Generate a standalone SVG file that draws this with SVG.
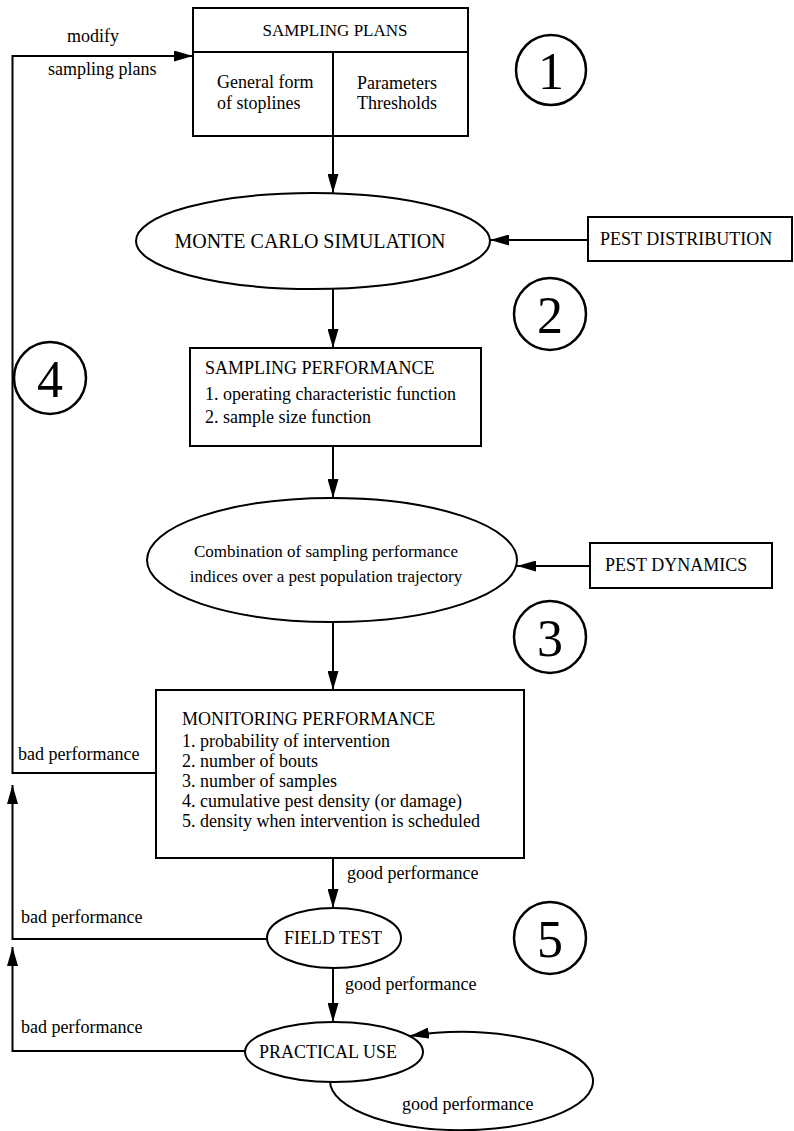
<svg xmlns="http://www.w3.org/2000/svg" width="794" height="1131" viewBox="0 0 794 1131">
<style>
text{font-family:"Liberation Serif","Times New Roman",serif;font-size:18px;fill:#000}
.box{fill:#fff;stroke:#000;stroke-width:2}
.el{fill:#fff;stroke:#000;stroke-width:2}
.num{fill:none;stroke:#000;stroke-width:2.5}
.numt{font-size:52px;text-anchor:middle}
.mid{text-anchor:middle}
.c{fill:none;stroke:#000;stroke-width:2}
</style>
<defs>
<marker id="ah" markerUnits="userSpaceOnUse" markerWidth="19" markerHeight="11" refX="19" refY="5.5" orient="auto">
<path d="M0,0 L19,5.5 L0,11 z" fill="#000"/>
</marker>
</defs>
<rect width="794" height="1131" fill="#fff"/>
<g id="connectors">
<path class="c" d="M156 773 L12.5 773 L12.5 56 L193 56" marker-end="url(#ah)"/>
<path class="c" d="M267 939 L12.5 939 L12.5 785" marker-end="url(#ah)"/>
<path class="c" d="M245 1051 L12.5 1051 L12.5 947" marker-end="url(#ah)"/>
<path class="c" d="M333 136 L333 193" marker-end="url(#ah)"/>
<path class="c" d="M588 240 L490 240" marker-end="url(#ah)"/>
<path class="c" d="M333 289 L333 348" marker-end="url(#ah)"/>
<path class="c" d="M333 446 L333 498" marker-end="url(#ah)"/>
<path class="c" d="M590 566 L517 566" marker-end="url(#ah)"/>
<path class="c" d="M333 623 L333 690" marker-end="url(#ah)"/>
<path class="c" d="M333 858 L333 908" marker-end="url(#ah)"/>
<path class="c" d="M333 968 L333 1022" marker-end="url(#ah)"/>
<path class="c" d="M330 1081 A131.5 49 0 1 0 410 1036" marker-end="url(#ah)"/>
<text x="67" y="42">modify</text>
<text x="48" y="75">sampling plans</text>
<text x="18" y="760">bad performance</text>
<text x="347" y="879">good performance</text>
<text x="21" y="923">bad performance</text>
<text x="345" y="990">good performance</text>
<text x="21" y="1033">bad performance</text>
<text x="402" y="1110">good performance</text>
</g>
<g id="sampling-plans">
<rect class="box" x="193" y="8" width="275" height="128"/>
<line x1="193" y1="52" x2="468" y2="52" stroke="#000" stroke-width="2"/>
<line x1="333" y1="52" x2="333" y2="136" stroke="#000" stroke-width="2"/>
<text class="mid" x="335" y="36" style="font-size:17px">SAMPLING PLANS</text>
<text x="217" y="88">General form</text>
<text x="217" y="109">of stoplines</text>
<text x="357" y="89">Parameters</text>
<text x="357" y="109">Thresholds</text>
</g>
<g id="monte-carlo">
<ellipse class="el" cx="313" cy="241" rx="177" ry="48"/>
<text class="mid" x="310" y="248" style="font-size:20px">MONTE CARLO SIMULATION</text>
</g>
<g id="pest-distribution">
<rect class="box" x="588" y="217" width="204" height="44"/>
<text x="600" y="245">PEST DISTRIBUTION</text>
</g>
<g id="sampling-performance">
<rect class="box" x="190" y="348" width="291" height="98"/>
<text x="205" y="374">SAMPLING PERFORMANCE</text>
<text x="205" y="400">1. operating characteristic function</text>
<text x="205" y="423">2. sample size function</text>
</g>
<g id="combination">
<ellipse class="el" cx="332" cy="560" rx="185" ry="62"/>
<text class="mid" x="326" y="557" style="font-size:17px">Combination of sampling performance</text>
<text class="mid" x="326" y="582" style="font-size:17px">indices over a pest population trajectory</text>
</g>
<g id="pest-dynamics">
<rect class="box" x="590" y="543" width="182" height="45"/>
<text x="605" y="571">PEST DYNAMICS</text>
</g>
<g id="monitoring-performance">
<rect class="box" x="156" y="690" width="368" height="168"/>
<text x="182" y="725">MONITORING PERFORMANCE</text>
<text x="182" y="747">1. probability of intervention</text>
<text x="182" y="767">2. number of bouts</text>
<text x="182" y="787">3. number of samples</text>
<text x="182" y="807">4. cumulative pest density (or damage)</text>
<text x="182" y="827">5. density when intervention is scheduled</text>
</g>
<g id="field-test">
<ellipse class="el" cx="334" cy="938" rx="67" ry="30"/>
<text class="mid" x="333" y="944">FIELD TEST</text>
</g>
<g id="practical-use">
<ellipse class="el" cx="334" cy="1052" rx="89" ry="30"/>
<text class="mid" x="328" y="1058">PRACTICAL USE</text>
</g>
<g id="step-1"><circle class="num" cx="551" cy="70" r="35"/><text class="numt" x="551" y="89">1</text></g>
<g id="step-2"><circle class="num" cx="550" cy="314" r="36"/><text class="numt" x="550" y="333">2</text></g>
<g id="step-3"><circle class="num" cx="550" cy="637" r="36"/><text class="numt" x="550" y="656">3</text></g>
<g id="step-4"><circle class="num" cx="50" cy="378" r="36"/><text class="numt" x="50" y="397">4</text></g>
<g id="step-5"><circle class="num" cx="550" cy="938" r="36"/><text class="numt" x="550" y="957">5</text></g>
</svg>
